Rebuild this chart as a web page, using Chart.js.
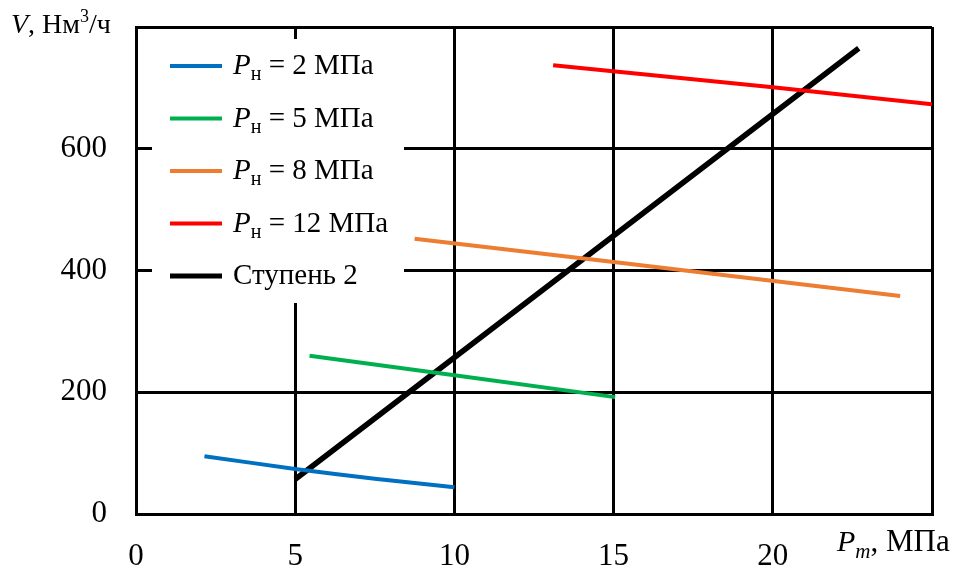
<!DOCTYPE html>
<html><head><meta charset="utf-8">
<script src="https://cdn.jsdelivr.net/npm/chart.js@4/dist/chart.umd.min.js"></script>
<style>html,body{margin:0;padding:0;background:#fff}#wrap{position:relative;width:960px;height:566px}</style>
</head><body><div id="wrap"><canvas id="c" width="960" height="566"></canvas></div>
<script>
// ---- data ----
const seriesNames = ["2 МПа", "5 МПа", "8 МПа", "12 МПа", "Ступень 2"];
const seriesColors = ["#0070C0", "#00B050", "#ED7D31", "#FF0000", "#000000"];
const p2x = [2.15, 5, 7.5, 10];
const p2y = [95, 74, 58, 44];
const p5x = [5.45, 10, 15.05];
const p5y = [260, 228, 192];
const p8x = [8.75, 15, 24.0];
const p8y = [452, 414, 358];
const p12x = [13.1, 20, 25];
const p12y = [737, 701, 673];
const stx = [5, 10, 15, 20, 22.7];
const sty = [57, 257, 457, 657, 765];
const xTicks = [0, 5, 10, 15, 20];
const yTicks = [0, 200, 400, 600];
const yAxisTitle = ["V", ", Нм", "3", "/ч"];
const xAxisTitle = ["P", "m", ", МПа"];

const xs = [p2x, p5x, p8x, p12x, stx];
const ys = [p2y, p5y, p8y, p12y, sty];
const FONT = "'Liberation Serif', 'Times New Roman', serif";

const datasets = xs.map((arr, i) => ({
  label: seriesNames[i],
  data: arr.map((x, j) => ({x: x, y: ys[i][j]})),
  showLine: true, borderColor: seriesColors[i], backgroundColor: seriesColors[i],
  borderWidth: i === 4 ? 5.5 : 4, pointRadius: 0, tension: i === 0 ? 0.2 : 0, fill: false
}));

const legendPlugin = {
  id: 'customLegend',
  afterDraw(chart) {
    const ctx = chart.ctx;
    ctx.save();
    ctx.fillStyle = '#fff';
    ctx.fillRect(152, 39, 252, 264);
    const y0 = 66, dy = 52.5;
    seriesNames.forEach((name, i) => {
      const y = y0 + dy * i;
      ctx.strokeStyle = seriesColors[i];
      ctx.lineWidth = i === 4 ? 5 : 4;
      ctx.beginPath(); ctx.moveTo(170, y); ctx.lineTo(222, y); ctx.stroke();
      ctx.fillStyle = '#000';
      ctx.textBaseline = 'alphabetic';
      ctx.textAlign = 'left';
      const base = y + 8;
      let x = 233;
      if (i < 4) {
        ctx.font = "italic 29px " + FONT;
        ctx.fillText("P", x, base); x += ctx.measureText("P").width;
        ctx.font = "20px " + FONT;
        ctx.fillText("н", x, base + 6); x += ctx.measureText("н").width;
        ctx.font = "29px " + FONT;
        ctx.fillText(" = " + name, x, base);
      } else {
        ctx.font = "29px " + FONT;
        ctx.fillText(name, x, base);
      }
    });
    // y axis title
    let x = 11;
    ctx.font = "italic 28px " + FONT;
    ctx.fillText(yAxisTitle[0], x, 33); x += ctx.measureText(yAxisTitle[0]).width;
    ctx.font = "28px " + FONT;
    ctx.fillText(yAxisTitle[1], x, 33); x += ctx.measureText(yAxisTitle[1]).width;
    ctx.font = "18px " + FONT;
    ctx.fillText(yAxisTitle[2], x, 22); x += ctx.measureText(yAxisTitle[2]).width;
    ctx.font = "28px " + FONT;
    ctx.fillText(yAxisTitle[3], x, 33);
    // x axis title
    x = 837;
    ctx.font = "italic 30px " + FONT;
    ctx.fillText(xAxisTitle[0], x, 551); x += ctx.measureText(xAxisTitle[0]).width;
    ctx.font = "italic 21px " + FONT;
    ctx.fillText(xAxisTitle[1], x, 558); x += ctx.measureText(xAxisTitle[1]).width;
    ctx.font = "31px " + FONT;
    ctx.fillText(xAxisTitle[2], x, 551);
    ctx.restore();
  }
};

new Chart(document.getElementById('c'), {
  type: 'scatter',
  data: { datasets },
  options: {
    responsive: false, animation: false,
    layout: { padding: { left: 0, right: 28, top: 27, bottom: 0 } },
    plugins: { legend: { display: false }, tooltip: { enabled: false } },
    scales: {
      x: {
        type: 'linear', min: 0, max: 25,
        afterBuildTicks: s => { s.ticks = [0,5,10,15,20,25].map(v => ({value: v})); },
        afterFit: s => { s.height = 52; s.paddingLeft = 0; s.paddingRight = 0; },
        grid: { color: '#000', lineWidth: 3, drawTicks: false },
        border: { display: true, color: '#000', width: 3 },
        ticks: { color: '#000', font: { family: FONT, size: 31 }, padding: 24, maxRotation: 0,
          callback: v => xTicks.includes(v) ? String(v) : '' }
      },
      y: {
        type: 'linear', min: 0, max: 800,
        afterBuildTicks: s => { s.ticks = [0,200,400,600,800].map(v => ({value: v})); },
        afterFit: s => { s.width = 136; s.paddingTop = 0; s.paddingBottom = 0; },
        grid: { color: '#000', lineWidth: 3, drawTicks: false },
        border: { display: true, color: '#000', width: 3 },
        ticks: { color: '#000', font: { family: FONT, size: 31 }, padding: 29,
          callback: v => yTicks.includes(v) ? String(v) : '' }
      }
    }
  },
  plugins: [legendPlugin]
});
</script></body></html>
